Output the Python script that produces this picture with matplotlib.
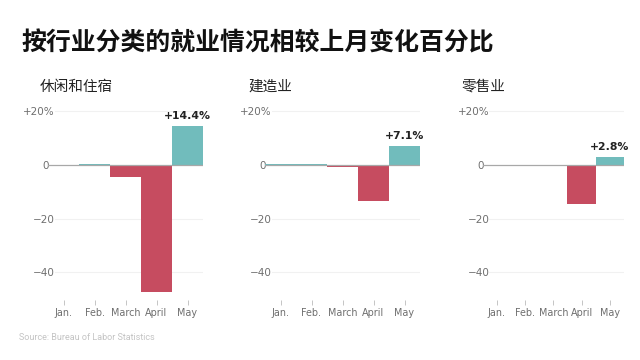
import matplotlib
matplotlib.use("Agg")
import matplotlib.pyplot as plt
import matplotlib.transforms as mtransforms

months = ["Jan.", "Feb.", "March", "April", "May"]
panel_titles = ["休闲和住宿", "建造业", "零售业"]
leisure = [0.1, 0.3, -4.6, -47.6, 14.4]
construction = [0.3, 0.4, -0.6, -13.3, 7.1]
retail = [0.05, 0.05, -0.4, -14.6, 2.8]
series = [leisure, construction, retail]
value_labels = ["+14.4%", "+7.1%", "+2.8%"]
ytick_vals = [20, 0, -20, -40]
ytick_labels = ["+20%", "0", "\u221220", "\u221240"]
title = "按行业分类的就业情况相较上月变化百分比"
source = "Source: Bureau of Labor Statistics"

TEAL = "#71bcbc"
RED = "#c64c60"
W, H = 640, 360

fig = plt.figure(figsize=(6.4, 3.6), dpi=100)
fig.patch.set_facecolor("white")

cjk = ["Noto Sans CJK SC", "DejaVu Sans"]

fig.text(21 / W, 1 - 43 / H, title, fontsize=17.9, fontweight="heavy",
         family=cjk, color="#111111", va="center", ha="left")
fig.text(19 / W, 1 - 337 / H, source, fontsize=6.5, family=["Roboto", "DejaVu Sans"],
         color="#c4c4c4", va="center", ha="left")

# panel extents in pixels (left, right)
panels = [(48, 203), (265, 420), (482.5, 624)]
sub_x = [40, 248, 461]
top_px, bot_px = 106, 300

for i, (l, r) in enumerate(panels):
    ax = fig.add_axes([l / W, 1 - bot_px / H, (r - l) / W, (bot_px - top_px) / H])
    vals = series[i]
    colors = [TEAL if v >= 0 else RED for v in vals]
    x = list(range(len(months)))
    ax.bar(x, vals, width=1.0, color=colors, zorder=3, linewidth=0)
    ax.set_xlim(-0.5, len(months) - 0.5)
    ax.set_ylim(-50.4, 22)
    for s in ax.spines.values():
        s.set_visible(False)
    # gridlines
    for v in ytick_vals:
        if v == 0:
            ax.axhline(0, color="#a8a8a8", lw=0.9, zorder=4)
        else:
            ax.axhline(v, xmin=0.045, xmax=1, color="#f1f1f1", lw=0.8, zorder=1)
    ax.set_yticks(ytick_vals)
    ax.set_yticklabels(ytick_labels)
    ax.tick_params(axis="y", length=0, pad=-5, labelsize=7.5, labelcolor="#6e6e6e")
    for lab in ax.get_yticklabels():
        lab.set_horizontalalignment("right")
        if lab.get_text() == "0":
            lab.set_transform(lab.get_transform() +
                              mtransforms.ScaledTranslation(-6 / 100, 0, fig.dpi_scale_trans))
    ax.set_xticks(x)
    ax.set_xticklabels(months)
    ax.tick_params(axis="x", length=3.5, width=0.6, color="#bbbbbb", pad=2,
                   labelsize=6.9, labelcolor="#6e6e6e")
    ax.patch.set_alpha(0)
    # value label on last bar
    ax.annotate(value_labels[i], xy=(x[-1], vals[-1]), xytext=(0, 3.6),
                textcoords="offset points", ha="center", va="bottom",
                fontsize=7.8, fontweight="bold", color="#222222", zorder=5)
    fig.text(sub_x[i] / W, 1 - 87 / H, panel_titles[i], fontsize=10.5,
             family=cjk, color="#222222", va="center", ha="left")

fig.savefig("out.png", dpi=100, facecolor="white")
